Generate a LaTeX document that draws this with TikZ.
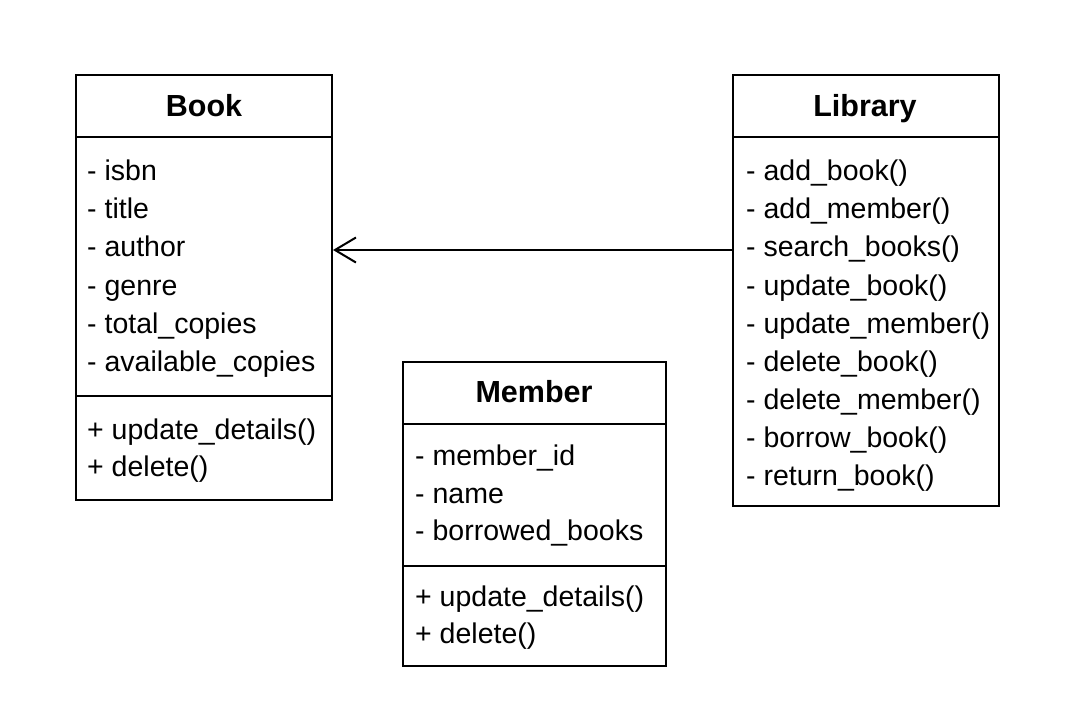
\documentclass[tikz,border=0pt]{standalone}
\usepackage{fontspec}
\setmainfont{Liberation Sans}
\usetikzlibrary{arrows.meta}
\begin{document}
\begin{tikzpicture}[x=1pt,y=1pt,
  every node/.style={font=\fontsize{28.5}{32}\selectfont, inner sep=0pt},
  box/.style={draw, line width=2pt, rectangle, anchor=north west},
  item/.style={anchor=west, text height=20pt, text depth=6pt, yshift=-3pt},
  ttl/.style={font=\fontsize{30.5}{34}\selectfont\bfseries, text height=22pt, text depth=6pt, yshift=-3pt},
  sep/.style={line width=2pt},
  assoc/.style={line width=2pt, -{Straight Barb[length=21pt,width=25pt,line width=2pt]}}]
\useasboundingbox (0,0) rectangle (1080,-720);
\fill[white] (0,0) rectangle (1080,-720);
% Book
\node[box, minimum width=256pt, minimum height=425pt] (book) at (75,-74) {};
\draw[sep] (book.west |- 0,-137) -- (book.east |- 0,-137);
\draw[sep] (book.west |- 0,-396) -- (book.east |- 0,-396);
\node[ttl] (bookt) at (204,-105) {Book};
\node[item] (b1) at (87,-170) {- isbn};
\node[item] (b2) at (87,-208) {- title};
\node[item] (b3) at (87,-246) {- author};
\node[item] (b4) at (87,-285) {- genre};
\node[item] (b5) at (87,-323) {- total\_copies};
\node[item] (b6) at (87,-361) {- available\_copies};
\node[item] (b7) at (87,-429) {+ update\_details()};
\node[item] (b8) at (87,-466) {+ delete()};
% Library
\node[box, minimum width=266pt, minimum height=431pt] (library) at (732,-74) {};
\draw[sep] (library.west |- 0,-137) -- (library.east |- 0,-137);
\node[ttl] (libt) at (865,-105) {Library};
\node[item] (l1) at (746,-170) {- add\_book()};
\node[item] (l2) at (746,-208) {- add\_member()};
\node[item] (l3) at (746,-246) {- search\_books()};
\node[item] (l4) at (746,-285) {- update\_book()};
\node[item] (l5) at (746,-323) {- update\_member()};
\node[item] (l6) at (746,-361) {- delete\_book()};
\node[item] (l7) at (746,-399) {- delete\_member()};
\node[item] (l8) at (746,-437) {- borrow\_book()};
\node[item] (l9) at (746,-475) {- return\_book()};
% Member
\node[box, minimum width=263pt, minimum height=304pt] (member) at (402,-361) {};
\draw[sep] (member.west |- 0,-424) -- (member.east |- 0,-424);
\draw[sep] (member.west |- 0,-566) -- (member.east |- 0,-566);
\node[ttl] (memt) at (534,-391) {Member};
\node[item] (m1) at (415,-455) {- member\_id};
\node[item] (m2) at (415,-493) {- name};
\node[item] (m3) at (415,-530) {- borrowed\_books};
\node[item] (m4) at (415,-596) {+ update\_details()};
\node[item] (m5) at (415,-633) {+ delete()};
% association
\draw[assoc] (library.west |- 0,-250) -- (book.east |- 0,-250);
\end{tikzpicture}
\end{document}
